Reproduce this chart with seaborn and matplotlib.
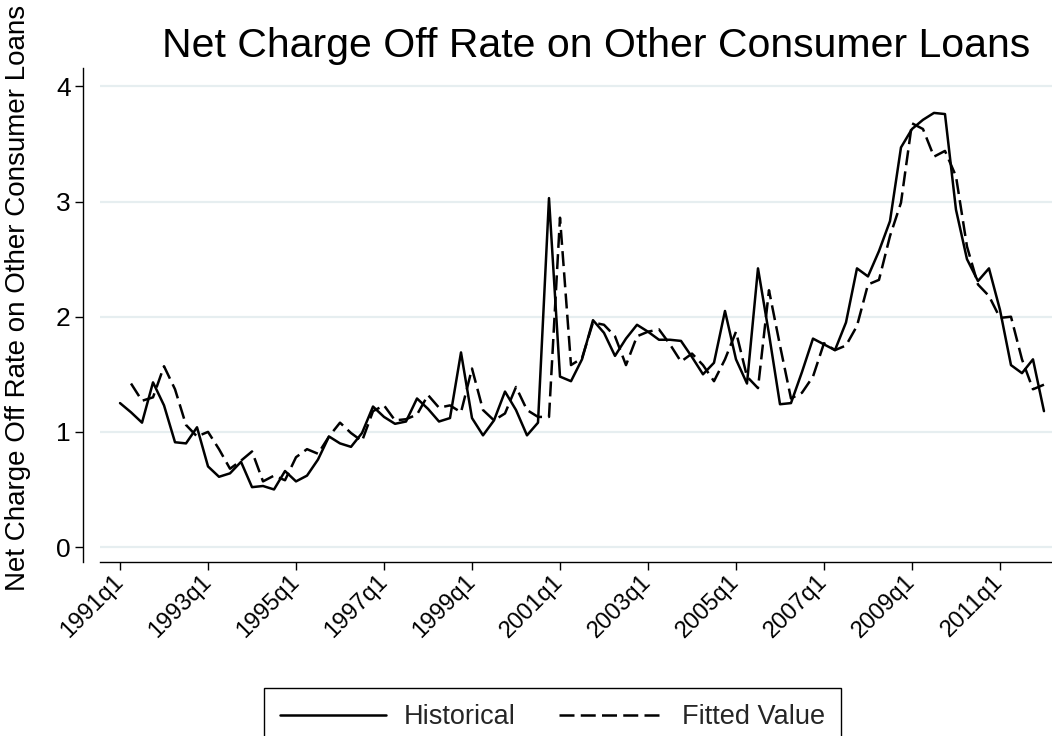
"""Net charge-off rate on other consumer loans: historical vs fitted, quarterly."""
import matplotlib.pyplot as plt
from matplotlib.lines import Line2D
import numpy as np
import pandas as pd
import seaborn as sns

# ── Style ────────────────────────────────────────────────────────────────────
sns.set_theme(style="white")
plt.rcParams["font.family"] = ["Liberation Sans", "DejaVu Sans"]

# ── Data (1991q1 .. 2012q1) ─────────────────────────────────────────────────
START_YEAR = 1991
HISTORICAL = [
    1.25, 1.17, 1.08, 1.43, 1.23, 0.91, 0.90, 1.04, 0.70, 0.61, 0.64, 0.74,
    0.52, 0.53, 0.50, 0.66, 0.57, 0.62, 0.76, 0.96, 0.90, 0.87, 0.99, 1.22,
    1.13, 1.07, 1.09, 1.29, 1.20, 1.09, 1.12, 1.69, 1.12, 0.97, 1.10, 1.35,
    1.19, 0.97, 1.08, 3.03, 1.48, 1.44, 1.63, 1.97, 1.86, 1.66, 1.81, 1.93,
    1.87, 1.80, 1.80, 1.79, 1.65, 1.50, 1.60, 2.05, 1.63, 1.42, 2.42, 1.85,
    1.24, 1.25, 1.52, 1.81, 1.76, 1.71, 1.95, 2.42, 2.35, 2.57, 2.83, 3.47,
    3.63, 3.71, 3.77, 3.76, 2.93, 2.50, 2.31, 2.42, 2.06, 1.58, 1.51, 1.63,
    1.18,
]
FITTED = [
    np.nan, 1.42, 1.27, 1.30, 1.57, 1.37, 1.06, 0.96, 1.00, 0.85, 0.68, 0.75,
    0.83, 0.57, 0.62, 0.58, 0.78, 0.85, 0.81, 0.96, 1.08, 0.99, 0.92, 1.18,
    1.23, 1.10, 1.11, 1.15, 1.32, 1.21, 1.23, 1.17, 1.55, 1.19, 1.10, 1.16,
    1.39, 1.19, 1.13, 1.13, 2.86, 1.58, 1.64, 1.95, 1.93, 1.83, 1.58, 1.83,
    1.87, 1.89, 1.76, 1.61, 1.68, 1.58, 1.44, 1.63, 1.87, 1.48, 1.38, 2.23,
    1.75, 1.29, 1.34, 1.48, 1.77, 1.71, 1.75, 1.92, 2.28, 2.32, 2.70, 2.99,
    3.68, 3.63, 3.39, 3.44, 3.22, 2.61, 2.28, 2.18, 1.99, 2.00, 1.63, 1.37,
    1.41,
]
SERIES = ["Historical", "Fitted Value"]
TICK_LABELS = ["1991q1", "1993q1", "1995q1", "1997q1", "1999q1", "2001q1",
               "2003q1", "2005q1", "2007q1", "2009q1", "2011q1"]
Y_TICKS = [0, 1, 2, 3, 4]
TITLE = "Net Charge Off Rate on Other Consumer Loans"
Y_LABEL = "Net Charge Off Rate on Other Consumer Loans"

quarters = [f"{START_YEAR + i // 4}q{i % 4 + 1}" for i in range(len(HISTORICAL))]
qidx = np.arange(len(quarters))

df = pd.DataFrame({
    "qidx": np.concatenate([qidx, qidx]),
    "rate": HISTORICAL + FITTED,
    "series": [SERIES[0]] * len(qidx) + [SERIES[1]] * len(qidx),
})

DASH = (6, 2.5)
LW = 1.8

# ── Figure ───────────────────────────────────────────────────────────────────
fig = plt.figure(figsize=(10.52, 7.36), dpi=100)
ax = fig.add_axes([100 / 1052, 1 - 562 / 736, 952 / 1052, 494 / 736])

sns.lineplot(data=df, x="qidx", y="rate", style="series",
             dashes={SERIES[0]: "", SERIES[1]: DASH},
             color="black", lw=LW, legend=False, errorbar=None, ax=ax)

# spines first: moving a spine resets the tick objects
for side in ("top", "right"):
    ax.spines[side].set_visible(False)
for side in ("left", "bottom"):
    ax.spines[side].set_color("black")
    ax.spines[side].set_linewidth(1.0)
ax.spines["left"].set_position(("outward", 12))

ax.set_xlim(-1.82, 84.73)
ax.set_ylim(-0.13, 4.16)
ax.set_xticks([quarters.index(t) for t in TICK_LABELS])
ax.set_xticklabels(TICK_LABELS, rotation=45, ha="right", va="center",
                   rotation_mode="anchor")
ax.set_yticks(Y_TICKS)
ax.set_yticklabels([str(t) for t in Y_TICKS])

ax.tick_params(axis="both", which="major", bottom=True, left=True,
               direction="out", length=6, width=1.0, color="black",
               labelcolor="black")
ax.tick_params(axis="x", labelsize=17, pad=6)
ax.tick_params(axis="y", labelsize=19, pad=3)

ax.grid(axis="y", color="#E6EEF0", lw=1.6)
ax.grid(axis="x", visible=False)
ax.set_axisbelow(True)

ax.set_xlabel("")
ax.set_ylabel(Y_LABEL, fontsize=20, color="black")
ax.yaxis.set_label_coords(-0.072, 0.535)

fig.text(596 / 1052, 1 - 57 / 736, TITLE, ha="center", va="baseline",
         fontsize=29.5, color="black")

handles = [Line2D([], [], color="black", lw=LW),
           Line2D([], [], color="black", lw=LW, dashes=DASH)]
leg = fig.legend(handles, SERIES, loc="upper left",
                 bbox_to_anchor=(264 / 1052, 1 - 688 / 736), ncol=2,
                 frameon=True, fancybox=False, framealpha=1,
                 edgecolor="black", fontsize=19.5, handlelength=3.9,
                 handletextpad=0.65, columnspacing=1.6, borderpad=0.6,
                 borderaxespad=0)
leg.get_frame().set_linewidth(1.0)

fig.savefig("out.png", dpi=100)
